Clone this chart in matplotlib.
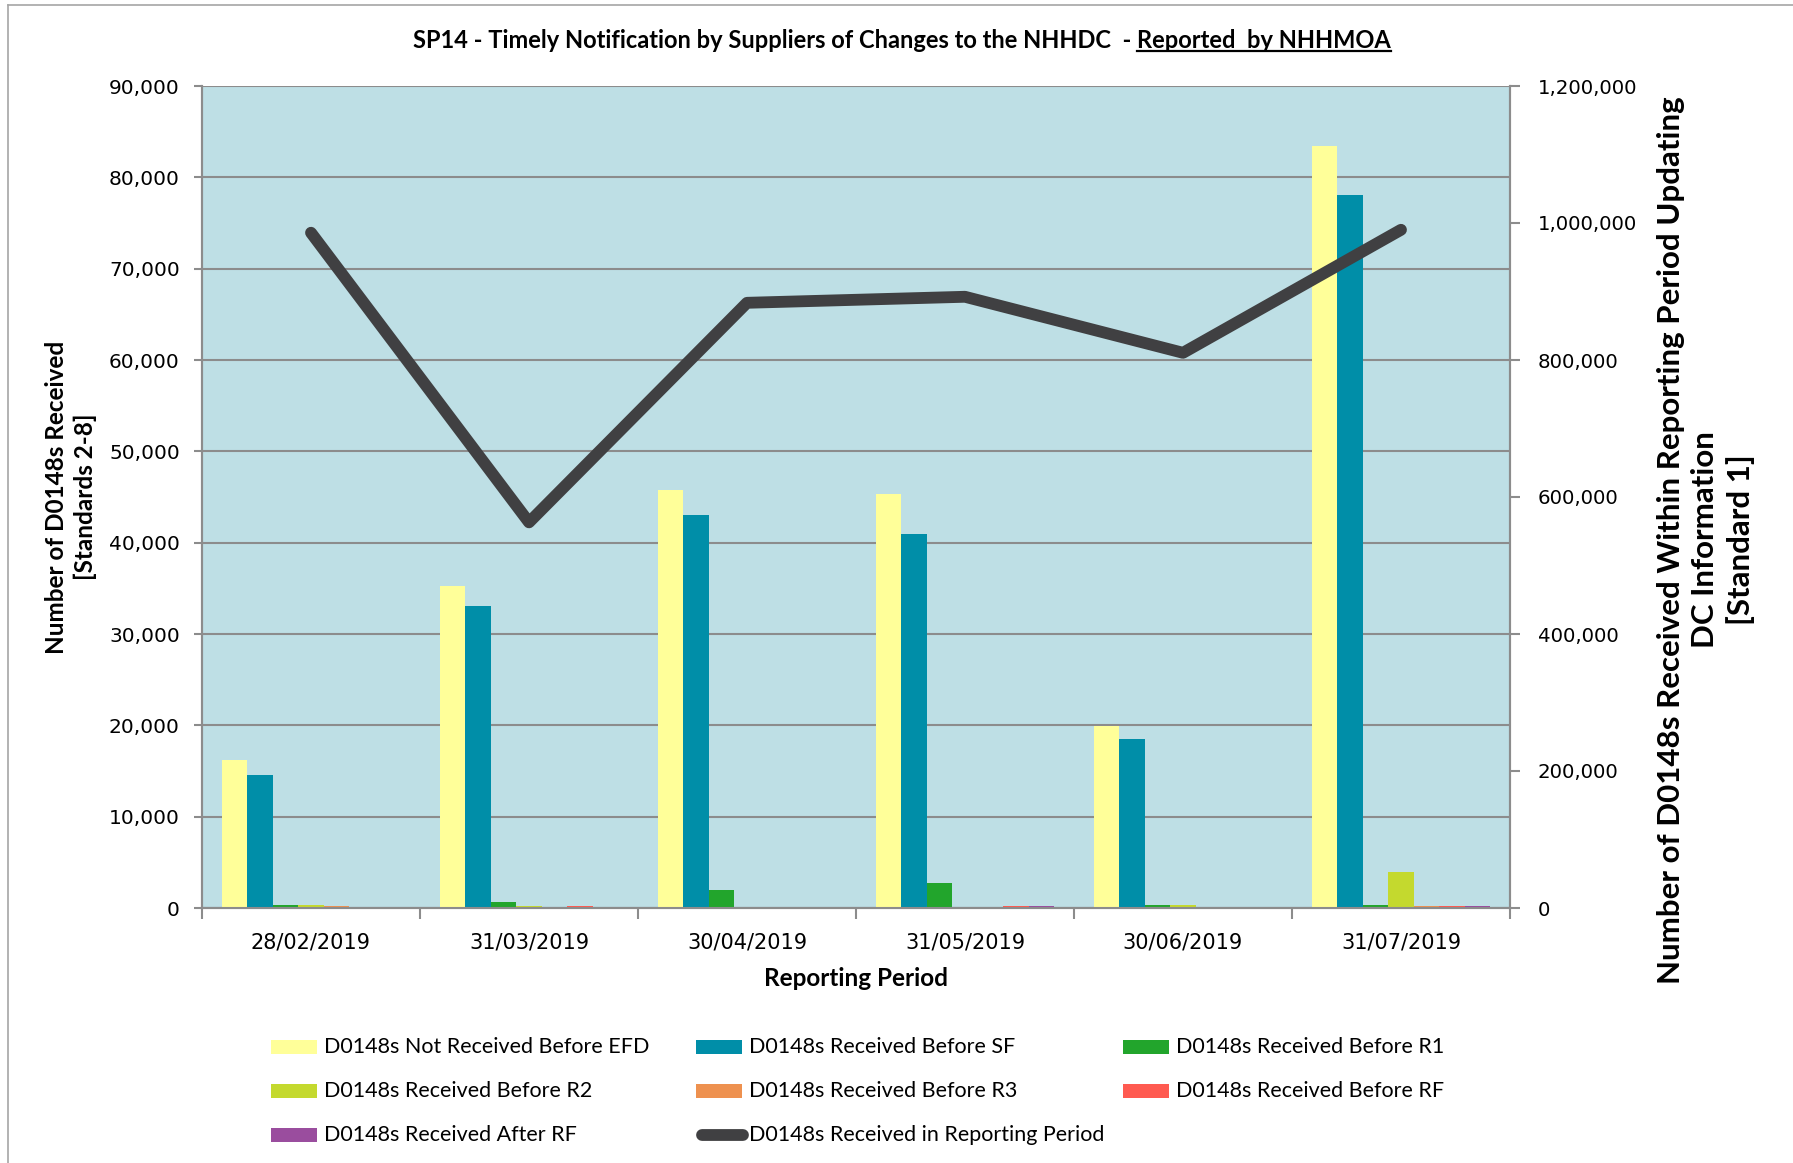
import matplotlib
matplotlib.use('Agg')
import matplotlib.pyplot as plt
from matplotlib.patches import Rectangle
from matplotlib.lines import Line2D
from matplotlib.ticker import FuncFormatter, FixedLocator, MultipleLocator
import numpy as np

# ---------------- data ----------------
periods = ['28/02/2019', '31/03/2019', '30/04/2019', '31/05/2019', '30/06/2019', '31/07/2019']
not_before_efd = [16200, 35300, 45800, 45300, 19900, 83400]
before_sf = [14600, 33100, 43000, 41000, 18500, 78100]
before_r1 = [370, 660, 1930, 2740, 370, 370]
before_r2 = [360, 180, 30, 30, 370, 3900]
before_r3 = [180, 70, 60, 50, 60, 180]
before_rf = [70, 220, 60, 180, 60, 180]
after_rf = [70, 70, 60, 180, 60, 180]
in_period = [985800, 563000, 883500, 892300, 810500, 990100]

bar_names = ['D0148s Not Received Before EFD', 'D0148s Received Before SF',
             'D0148s Received Before R1', 'D0148s Received Before R2',
             'D0148s Received Before R3', 'D0148s Received Before RF',
             'D0148s Received After RF']
line_name = 'D0148s Received in Reporting Period'
bar_colors = ['#FFFF99', '#008EA8', '#22A52C', '#C4D92E', '#EE914F', '#FF5A50', '#9A4D9E']
line_color = '#404042'

plt.rcParams['font.family'] = ['Lato', 'DejaVu Sans']

W, H = 1793, 1163
fig = plt.figure(figsize=(W / 100, H / 100), dpi=100)

def fx(px):
    return px / W

def fy(py):
    return 1 - py / H

left, right, top, bottom = 202, 1510, 86, 908
ax = fig.add_axes([fx(left), fy(bottom), (right - left) / W, (bottom - top) / H])
ax.set_facecolor('#BEDFE5')

series = [not_before_efd, before_sf, before_r1, before_r2, before_r3, before_rf, after_rf]
x = np.arange(len(periods))
bw = 0.117
for i, (vals, col) in enumerate(zip(series, bar_colors)):
    ax.bar(x + (i - 3) * bw, vals, width=bw, color=col, zorder=3, linewidth=0)

ax.set_xlim(-0.5, len(periods) - 0.5)
ax.set_ylim(0, 90000)
ax.yaxis.set_major_locator(MultipleLocator(10000))
ax.yaxis.set_major_formatter(FuncFormatter(lambda v, p: f'{int(v):,}'))
ax.grid(axis='y', color='#8C8C8C', linewidth=1.5, zorder=1)
ax.set_axisbelow(True)

ax.xaxis.set_major_locator(FixedLocator(np.arange(-0.5, len(periods), 1.0)))
ax.xaxis.set_major_formatter(FuncFormatter(lambda v, p: ''))
ax.xaxis.set_minor_locator(FixedLocator(x))
ax.set_xticklabels(periods, minor=True)
ax.tick_params(axis='x', which='minor', length=0, pad=18, labelsize=15)
ax.tick_params(axis='x', which='major', length=8, width=1.5, color='#8C8C8C')
ax.tick_params(axis='y', length=6, width=1.5, color='#8C8C8C', pad=10, labelsize=14.5)
for lbl in ax.get_yticklabels():
    lbl.set_fontfamily('DejaVu Sans')
for lbl in ax.get_xticklabels(minor=True):
    lbl.set_fontfamily('DejaVu Sans')

for s in ['left', 'bottom', 'right']:
    ax.spines[s].set_color('#8C8C8C')
    ax.spines[s].set_linewidth(1.5)
ax.spines['top'].set_visible(False)

ax2 = ax.twinx()
ax2.plot(x, in_period, color=line_color, linewidth=8.5, solid_capstyle='round',
         solid_joinstyle='round', zorder=5)
ax2.set_ylim(0, 1200000)
ax2.yaxis.set_major_locator(MultipleLocator(200000))
ax2.yaxis.set_major_formatter(FuncFormatter(lambda v, p: f'{int(v):,}'))
ax2.tick_params(axis='y', length=7, width=1.5, color='#8C8C8C', pad=13, labelsize=14.2)
for lbl in ax2.get_yticklabels():
    lbl.set_fontfamily('DejaVu Sans')
for s in ['left', 'bottom', 'right']:
    ax2.spines[s].set_color('#8C8C8C')
    ax2.spines[s].set_linewidth(1.5)
ax2.spines['top'].set_visible(False)

# axis labels
fig.text(fx(71), fy(497), 'Number of D0148s Received\n[Standards 2-8]', rotation=90,
         ha='center', va='center', multialignment='center', fontsize=17.5,
         fontweight='bold', linespacing=1.25)
fig.text(fx(856), fy(979), 'Reporting Period', ha='center', va='center',
         fontsize=17.5, fontweight='bold')
fig.text(fx(1706), fy(540),
         'Number of D0148s Received Within Reporting Period Updating\nDC Information\n[Standard 1]',
         rotation=90, ha='center', va='center', multialignment='center',
         fontsize=22.5, fontweight='bold', linespacing=1.3)

# title with underlined part
t1 = fig.text(fx(1140), fy(40), 'SP14 - Timely Notification by Suppliers of Changes to the NHHDC  - ',
              ha='right', va='center', fontsize=17, fontweight='bold')
t2 = fig.text(fx(1140), fy(40), 'Reported  by NHHMOA', ha='left', va='center',
              fontsize=17, fontweight='bold')

# legend (manual, Excel-like equal columns)
order = bar_names + [line_name]
col_x = [271, 696, 1123]
row_y = [1047, 1091, 1135]
for k, name in enumerate(order):
    r, c = divmod(k, 3)
    px, py = col_x[c], row_y[r]
    if k < len(bar_names):
        fig.add_artist(Rectangle((fx(px), fy(py + 7)), 46 / W, 14 / H,
                                 transform=fig.transFigure, color=bar_colors[k], lw=0))
    else:
        fig.add_artist(Line2D([fx(px + 6), fx(px + 47)], [fy(py), fy(py)],
                              transform=fig.transFigure, color=line_color,
                              linewidth=8.5, solid_capstyle='round'))
    fig.text(fx(px + 53), fy(py), name, ha='left', va='center', fontsize=15.5)

# outer chart border
fig.add_artist(Line2D([fx(8), fx(8)], [fy(5), 0], transform=fig.transFigure,
                      color='#A6A6A6', linewidth=1.2))
fig.add_artist(Line2D([fx(8), 1], [fy(5), fy(5)], transform=fig.transFigure,
                      color='#A6A6A6', linewidth=1.2))

# centre the two-part title at x = 902 px
fig.canvas.draw()
rend = fig.canvas.get_renderer()
b1 = t1.get_window_extent(renderer=rend)
b2 = t2.get_window_extent(renderer=rend)
w1, w2 = b1.width, b2.width
split = 902 - (w1 + w2) / 2 + w1
t1.set_x(fx(split))
t2.set_x(fx(split))
fig.canvas.draw()
bb = t2.get_window_extent(renderer=rend)
uy = (bb.y0 + 1) / fig.bbox.height
fig.add_artist(Line2D([bb.x0 / fig.bbox.width, bb.x1 / fig.bbox.width], [uy, uy],
                      transform=fig.transFigure, color='black', linewidth=1.6))

fig.savefig('out.png', dpi=100)
